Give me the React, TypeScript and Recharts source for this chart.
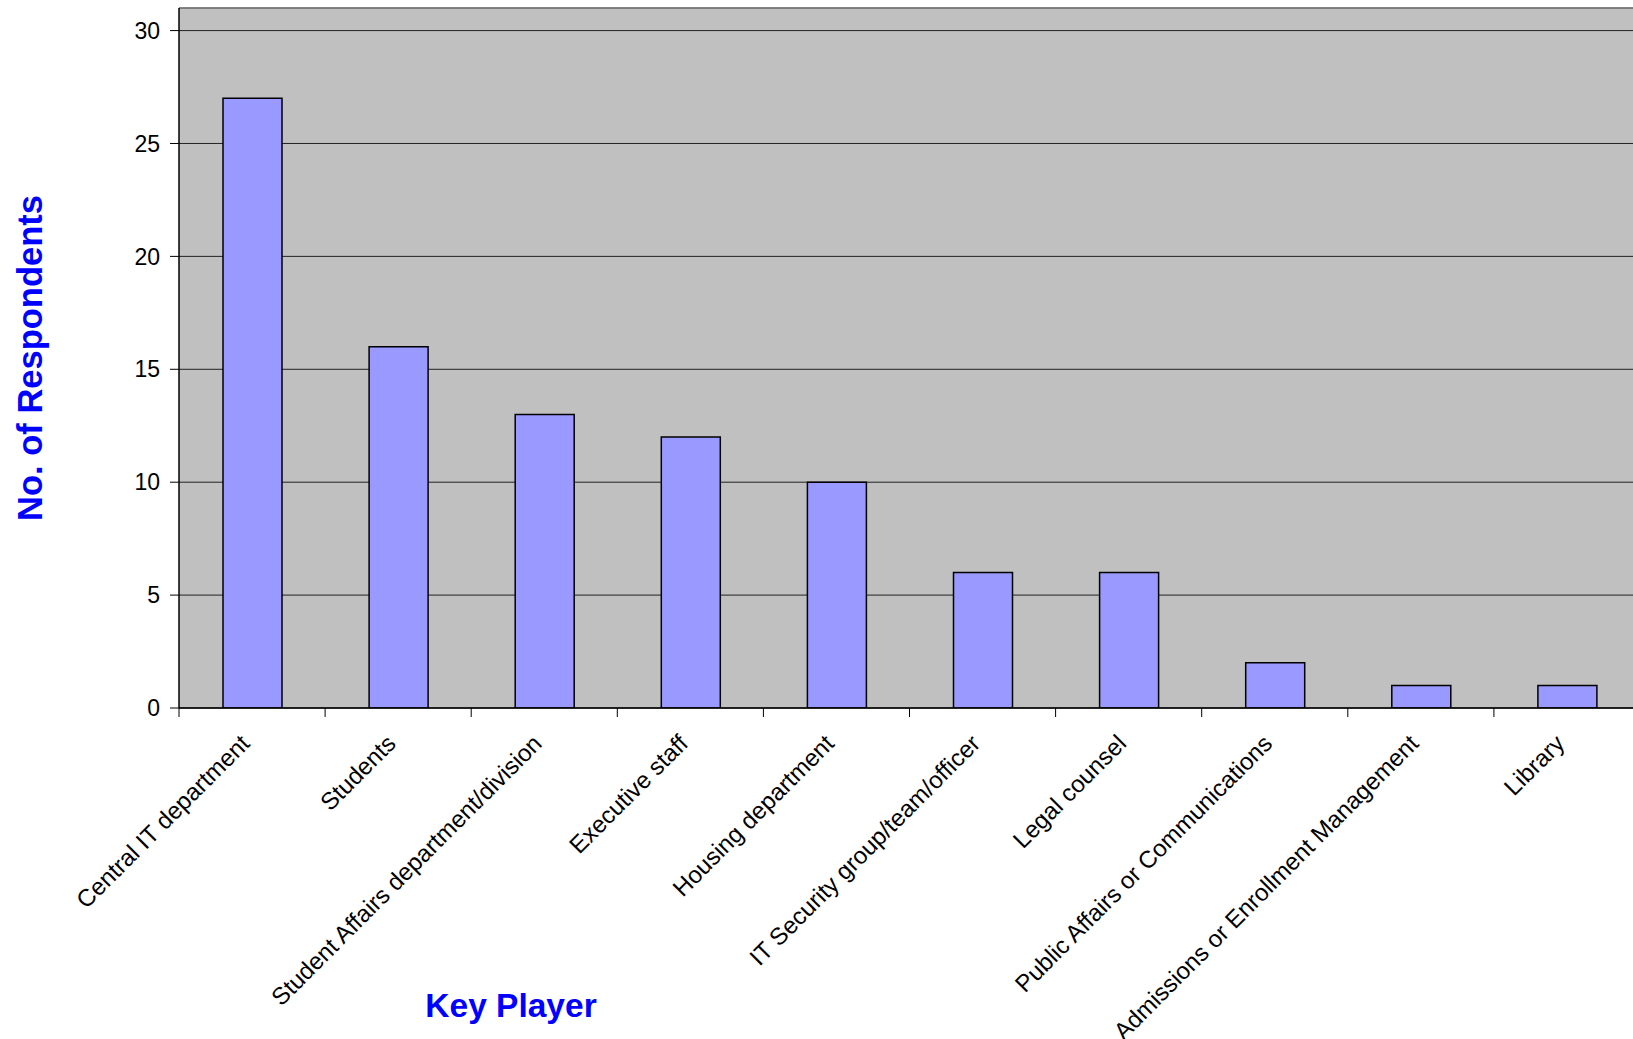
import { BarChart, Bar, XAxis, YAxis, CartesianGrid, ReferenceLine } from "recharts";

const players = [
  "Central IT department",
  "Students",
  "Student Affairs department/division",
  "Executive staff",
  "Housing department",
  "IT Security group/team/officer",
  "Legal counsel",
  "Public Affairs or Communications",
  "Admissions or Enrollment Management",
  "Library",
];
const respondents = [27, 16, 13, 12, 10, 6, 6, 2, 1, 1];
const yTicks = [0, 5, 10, 15, 20, 25, 30];

const data = players.map((name, i) => ({ name, value: respondents[i] }));

const FONT = '"Liberation Sans", Arial, sans-serif';
const TICK_SIZE = 9;
const TICK_MARGIN = 16;

// label rotated -45deg, plus a tick mark on the left edge of each category band
const RotatedTick = (props: any) => {
  const { x, y, payload } = props;
  const axisY = y - TICK_SIZE - TICK_MARGIN;
  const edgeX = x - (payload.offset || 0);
  const ax = x - 13;
  return (
    <g>
      <line x1={edgeX} y1={axisY} x2={edgeX} y2={axisY + TICK_SIZE} stroke="#000000" strokeWidth={1} />
      <text
        x={ax}
        y={y}
        transform={`rotate(-45, ${ax}, ${y})`}
        textAnchor="end"
        dy="0.71em"
        fontSize={24}
        fontFamily={FONT}
        fill="#000000"
      >
        {payload.value}
      </text>
    </g>
  );
};

export default function App() {
  return (
    <div
      style={{
        position: "fixed",
        left: 0,
        top: 0,
        width: 1633,
        height: 1039,
        overflow: "hidden",
        background: "#FFFFFF",
        fontFamily: FONT,
      }}
    >
      <BarChart
        width={1650}
        height={1039}
        data={data}
        margin={{ top: 8, right: 10, left: 0, bottom: 0 }}
      >
        <CartesianGrid
          vertical={false}
          fill="#C0C0C0"
          stroke="#222222"
          strokeWidth={1}
          yAxisId="y"
          xAxisId="cat"
        />
        <XAxis
          xAxisId="cat"
          dataKey="name"
          height={331}
          interval={0}
          tickLine={false}
          tickSize={TICK_SIZE}
          tickMargin={TICK_MARGIN}
          axisLine={{ stroke: "#000000", strokeWidth: 1.5 }}
          tick={<RotatedTick />}
        />
        <YAxis
          yAxisId="y"
          width={179}
          domain={[0, 31]}
          ticks={yTicks}
          allowDataOverflow
          tickSize={TICK_SIZE}
          tickMargin={10}
          tickLine={{ stroke: "#000000" }}
          axisLine={{ stroke: "#000000", strokeWidth: 1.5 }}
          tick={{ fontSize: 23, fill: "#000000", fontFamily: FONT }}
        />
        <ReferenceLine y={31} yAxisId="y" xAxisId="cat" stroke="#808080" strokeWidth={1.5} />
        <Bar
          dataKey="value"
          xAxisId="cat"
          yAxisId="y"
          fill="#9999FF"
          stroke="#000000"
          strokeWidth={1.5}
          barSize={59}
          isAnimationActive={false}
        />
      </BarChart>
      <div
        style={{
          position: "absolute",
          left: 30,
          top: 358,
          transform: "translate(-50%, -50%) rotate(-90deg)",
          whiteSpace: "nowrap",
          color: "#0000FF",
          fontWeight: "bold",
          fontSize: 34.5,
          lineHeight: "34px",
        }}
      >
        No. of Respondents
      </div>
      <div
        style={{
          position: "absolute",
          left: 511,
          top: 989,
          transform: "translateX(-50%)",
          whiteSpace: "nowrap",
          color: "#0000FF",
          fontWeight: "bold",
          fontSize: 33.5,
          lineHeight: "33px",
        }}
      >
        Key Player
      </div>
    </div>
  );
}
